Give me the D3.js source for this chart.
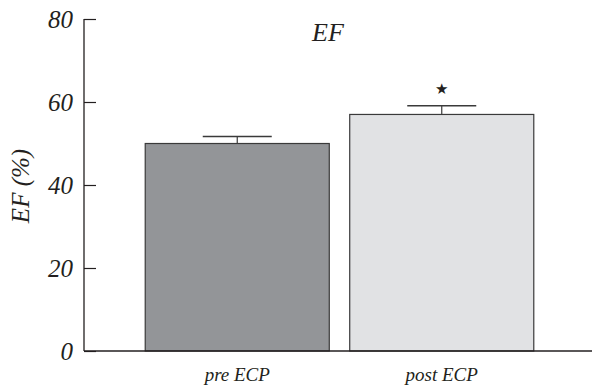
<!DOCTYPE html>
<html><head><meta charset="utf-8">
<script src="https://cdn.jsdelivr.net/npm/d3@7"></script>
<style>html,body{margin:0;padding:0;background:#fff;}svg{display:block;}
text.lbl{font-family:'Liberation Serif', serif; font-style:italic; fill:#231f20;}</style>
</head><body>
<svg id="c" width="592" height="391"></svg>
<script>
const categories = ["pre ECP", "post ECP"];
const values = [50, 57];
const errors = [1.7, 2.1];
const significant = [false, true];
const yTicks = [0, 20, 40, 60, 80];
const colors = ["#939598", "#e1e2e4"];

const svg = d3.select("#c");
const y = d3.scaleLinear().domain([0, 80]).range([351, 19]);
const x = d3.scaleBand().domain(categories).range([135, 544]).paddingInner(0.1).paddingOuter(0.05);
const axisX = 84;

// bars
svg.selectAll("rect.bar").data(categories).enter().append("rect")
  .attr("x", d => x(d)).attr("width", x.bandwidth())
  .attr("y", (d,i) => y(values[i])).attr("height", (d,i) => y(0) - y(values[i]))
  .attr("fill", (d,i) => colors[i]).attr("stroke", "#3a3a3a").attr("stroke-width", 1.2);

// error bars
const capW = 69;
categories.forEach((c,i) => {
  const cx = x(c) + x.bandwidth()/2;
  svg.append("line").attr("x1", cx).attr("x2", cx).attr("y1", y(values[i])).attr("y2", y(values[i]+errors[i]))
    .attr("stroke", "#3a3a3a").attr("stroke-width", 1.2);
  svg.append("line").attr("x1", cx - capW/2).attr("x2", cx + capW/2).attr("y1", y(values[i]+errors[i])).attr("y2", y(values[i]+errors[i]))
    .attr("stroke", "#3a3a3a").attr("stroke-width", 1.4);
  if (significant[i]) {
    svg.append("text").attr("x", cx).attr("y", y(values[i]+errors[i]) - 12)
      .attr("text-anchor", "middle").style("font-family", "'DejaVu Sans', sans-serif").style("font-size", "15px")
      .attr("fill", "#231f20").text("\u2605");
  }
});

// y axis
const yAxis = d3.axisRight(y).tickValues(yTicks).tickSize(12).tickFormat("");
const gy = svg.append("g").attr("transform", `translate(${axisX},0)`).call(yAxis);
gy.select(".domain").remove();
gy.selectAll(".tick line").attr("stroke", "#231f20").attr("stroke-width", 1.2);
svg.append("line").attr("x1", axisX).attr("x2", axisX).attr("y1", y(80)).attr("y2", y(0)).attr("stroke", "#231f20").attr("stroke-width", 1.3);
gy.selectAll(".tick").append("text").attr("class", "lbl").attr("x", -11).attr("dy", "0.35em")
  .attr("text-anchor", "end").style("font-size", "25px")
  .text(d => d);

// x axis
svg.append("line").attr("x1", axisX).attr("x2", 592).attr("y1", y(0)).attr("y2", y(0)).attr("stroke", "#231f20").attr("stroke-width", 1.3);
const xAxis = d3.axisBottom(x).tickSize(0).tickPadding(0);
const gx = svg.append("g").attr("transform", `translate(0,${y(0)})`).call(xAxis);
gx.select(".domain").remove();
gx.selectAll(".tick text").attr("class", "lbl").attr("y", 23).attr("dy", "0.35em")
  .style("font-size", "19px");

// title
svg.append("text").attr("class", "lbl").attr("x", 328).attr("y", 41).attr("text-anchor", "middle")
  .style("font-size", "26px").text("EF");

// y label
svg.append("text").attr("class", "lbl").attr("transform", "translate(29,186) rotate(-90)").attr("text-anchor", "middle")
  .style("font-size", "25px").text("EF (%)");
</script>
</body></html>
